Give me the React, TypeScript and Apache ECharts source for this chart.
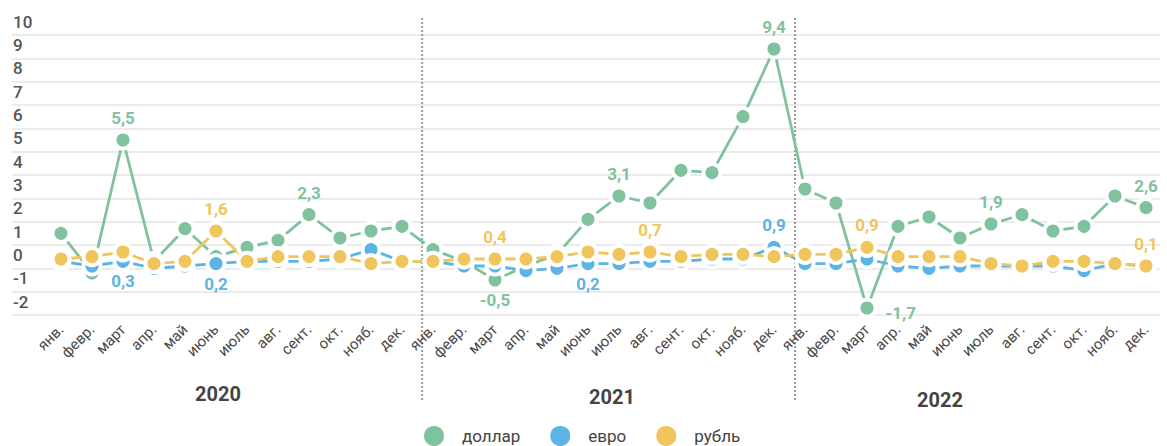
import React, { useEffect, useRef } from "react";
import * as echarts from "echarts";

const months = ["янв.", "февр.", "март", "апр.", "май", "июнь", "июль", "авг.", "сент.", "окт.", "нояб.", "дек."];
const years = ["2020", "2021", "2022"];
const categories = [...months, ...months, ...months];

const usd = [1.5, -0.2, 5.5, 0.3, 1.7, 0.5, 0.9, 1.2, 2.3, 1.3, 1.6, 1.8,
  0.8, 0.3, -0.5, 0.1, 0.6, 2.1, 3.1, 2.8, 4.2, 4.1, 6.5, 9.4,
  3.4, 2.8, -1.7, 1.8, 2.2, 1.3, 1.9, 2.3, 1.6, 1.8, 3.1, 2.6];
const eur = [0.3, 0.1, 0.3, 0.0, 0.1, 0.2, 0.3, 0.3, 0.3, 0.4, 0.8, 0.3,
  0.3, 0.1, 0.1, -0.1, 0.0, 0.2, 0.2, 0.3, 0.3, 0.4, 0.4, 0.9,
  0.2, 0.2, 0.4, 0.1, 0.0, 0.1, 0.1, 0.1, 0.1, -0.1, 0.2, 0.1];
const rub = [0.4, 0.5, 0.7, 0.2, 0.3, 1.6, 0.3, 0.5, 0.5, 0.5, 0.2, 0.3,
  0.3, 0.4, 0.4, 0.4, 0.5, 0.7, 0.6, 0.7, 0.5, 0.6, 0.6, 0.5,
  0.6, 0.6, 0.9, 0.5, 0.5, 0.5, 0.2, 0.1, 0.3, 0.3, 0.2, 0.1];

const usdTop = [2, 8, 18, 23, 30, 35];
const usdBottom = [14];
const usdRight = [26];
const eurTop = [23];
const eurBottom = [2, 5, 17];
const rubTop = [5, 14, 19, 26, 35];

const GREEN = "#80c29e";
const BLUE = "#5bb4e5";
const YELLOW = "#f0c55c";

const fmt = (v: number) => String(v).replace(".", ",");

function buildData(values: number[], color: string, top: number[], bottom: number[], right: number[]) {
  return values.map((v, i) => {
    let position: string | null = null;
    if (top.includes(i)) position = "top";
    else if (bottom.includes(i)) position = "bottom";
    else if (right.includes(i)) position = "right";
    if (!position) return v;
    return {
      value: v,
      label: {
        show: true,
        position,
        distance: position === "top" ? 3 : position === "bottom" ? 1 : 8,
        offset: position === "right" ? [0, 5] : [0, 0],
        formatter: () => fmt(v),
        color,
        fontSize: 17,
        fontWeight: "bold",
        fontFamily: "Roboto, sans-serif",
      },
    };
  });
}

function lineSeries(name: string, values: number[], color: string, top: number[], bottom: number[], right: number[]) {
  return {
    name,
    type: "line",
    xAxisIndex: 1,
    yAxisIndex: 1,
    data: buildData(values, color, top, bottom, right),
    symbol: "circle",
    symbolSize: 17,
    lineStyle: { color, width: 2.8 },
    itemStyle: { color, borderColor: "#ffffff", borderWidth: 4 },
    label: { show: false },
    emphasis: { disabled: true },
  };
}

export default function App() {
  const ref = useRef<HTMLDivElement>(null);
  useEffect(() => {
    document.body.style.margin = "0";
    if (!ref.current) return;
    const chart = echarts.init(ref.current, undefined, { renderer: "svg" });
    const gridTop = 35;
    const gridBottom = 131;
    chart.setOption({
      animation: false,
      textStyle: { fontFamily: "Roboto, sans-serif" },
      grid: [
        { left: 12, right: 7, top: gridTop, bottom: gridBottom },
        { left: 61, right: 21, top: gridTop, bottom: gridBottom },
      ],
      xAxis: [
        { type: "value", gridIndex: 0, show: false, min: 0, max: 1 },
        {
          type: "category",
          gridIndex: 1,
          data: categories,
          boundaryGap: false,
          axisLine: { show: false },
          axisTick: { show: false },
          axisLabel: {
            interval: 0,
            rotate: 45,
            margin: 12,
            fontSize: 15,
            color: "#4a4a4a",
            fontFamily: "Roboto, sans-serif",
          },
        },
      ],
      yAxis: [
        {
          type: "value",
          gridIndex: 0,
          min: -2,
          max: 10,
          interval: 1,
          axisLine: { show: false },
          axisTick: { show: false },
          splitLine: { lineStyle: { color: "#e4e4e4", width: 1.5 } },
          axisLabel: {
            inside: true,
            margin: 1,
            verticalAlign: "bottom",
            padding: [0, 0, 5, 0],
            fontSize: 17,
            fontWeight: 500,
            color: "#555",
            fontFamily: "Roboto, sans-serif",
          },
        },
        { type: "value", gridIndex: 1, min: -2, max: 10, interval: 1, show: false },
      ],
      legend: {
        left: 422,
        top: 424,
        padding: 0,
        icon: "circle",
        itemWidth: 22,
        itemHeight: 22,
        itemGap: 28,
        selectedMode: false,
        formatter: (name: string) => "{t|" + name + "}",
        textStyle: {
          fontSize: 17,
          color: "#444",
          fontFamily: "Roboto, sans-serif",
          rich: { t: { fontSize: 17, color: "#444", padding: [0, 0, 0, 12], lineHeight: 22 } },
        },
        data: ["доллар", "евро", "рубль"],
      },
      series: [
        lineSeries("доллар", usd, GREEN, usdTop, usdBottom, usdRight),
        lineSeries("евро", eur, BLUE, eurTop, eurBottom, []),
        lineSeries("рубль", rub, YELLOW, rubTop, [], []),
      ],
    });

    const px = (i: number) => chart.convertToPixel({ xAxisIndex: 1 }, i) as number;
    const sepX = [px(11) + 0.65 * (px(12) - px(11)), px(23) + 0.68 * (px(24) - px(23))];
    const yearPos = [
      { x: 218, y: 394 },
      { x: 612, y: 397 },
      { x: 940, y: 400 },
    ];
    chart.setOption({
      graphic: [
        ...sepX.map((x) => ({
          type: "line",
          silent: true,
          z: 0,
          shape: { x1: x, y1: 18, x2: x, y2: 402 },
          style: { stroke: "#9a9a9a", lineWidth: 2, lineDash: [2, 2] },
        })),
        ...years.map((t, i) => ({
          type: "text",
          silent: true,
          x: yearPos[i].x,
          y: yearPos[i].y,
          style: {
            text: t,
            fill: "#444",
            font: "bold 20px Roboto, sans-serif",
            textAlign: "center",
            textVerticalAlign: "middle",
          },
        })),
      ],
    });
    return () => chart.dispose();
  }, []);
  return <div ref={ref} style={{ width: 1167, height: 446 }} />;
}
